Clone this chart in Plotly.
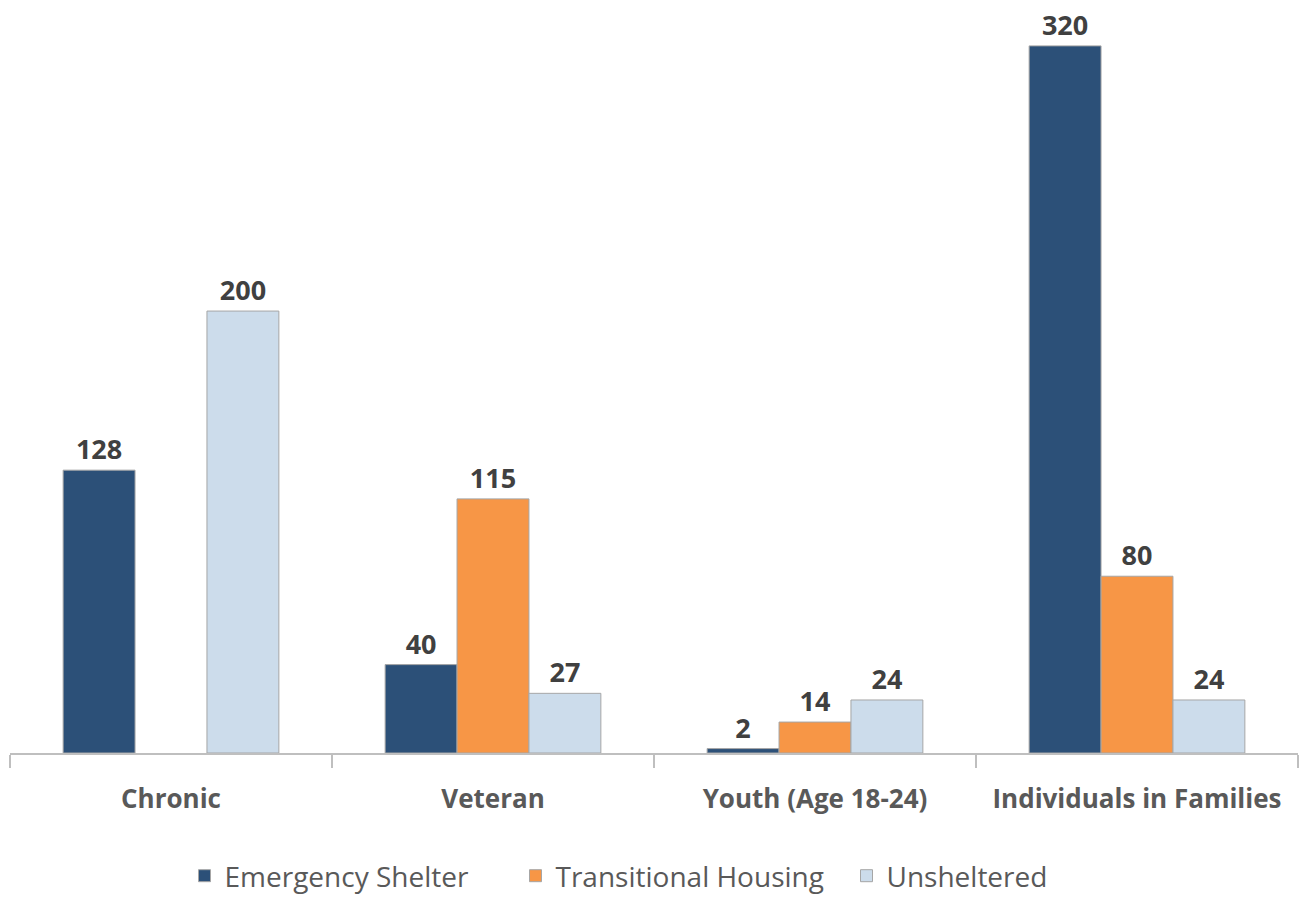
import plotly.graph_objects as go

categories = ["Chronic", "Veteran", "Youth (Age 18-24)", "Individuals in Families"]
emergency_shelter = [128, 40, 2, 320]
transitional_housing = [None, 115, 14, 80]
unsheltered = [200, 27, 24, 24]

series = [
    ("Emergency Shelter", emergency_shelter, "#2C5078"),
    ("Transitional Housing", transitional_housing, "#F79646"),
    ("Unsheltered", unsheltered, "#CCDCEB"),
]

fig = go.Figure()
for name, vals, color in series:
    fig.add_trace(go.Bar(
        name=name, x=categories, y=vals,
        marker=dict(color=color, line=dict(color="#A6A6A6", width=1)),
        text=[("" if v is None else str(v)) for v in vals],
        textposition="outside",
        textfont=dict(family="Open Sans", size=27, color="#404040", weight="bold"),
        cliponaxis=False,
    ))

fig.update_layout(
    width=1304, height=897,
    barmode="group", bargap=0.33, bargroupgap=0,
    plot_bgcolor="white", paper_bgcolor="white",
    margin=dict(l=10, r=6, t=5, b=144, autoexpand=False),
    font=dict(family="Open Sans", color="#595959"),
    showlegend=True,
    legend=dict(orientation="h", x=0.5 + 29 / 1304, xanchor="center", xref="container",
                y=1 - 876 / 897, yanchor="middle", yref="container",
                font=dict(family="Open Sans", size=28, color="#595959"),
                itemwidth=30, entrywidth=286, traceorder="normal"),
    xaxis=dict(showline=True, linecolor="#BFBFBF", linewidth=2,
               ticks="outside", tickson="boundaries", ticklen=13, tickcolor="#BFBFBF", tickwidth=2,
               tickfont=dict(family="Open Sans", size=26, color="#595959", weight="bold"),
               ticklabelstandoff=22, range=[-0.5, 3.5], automargin=False),
    yaxis=dict(visible=False, range=[0, 338.5], showgrid=False),
)

fig.write_html("out.html", config={"displayModeBar": False},
               post_script="document.body.style.margin='0';document.body.style.overflow='hidden';")
